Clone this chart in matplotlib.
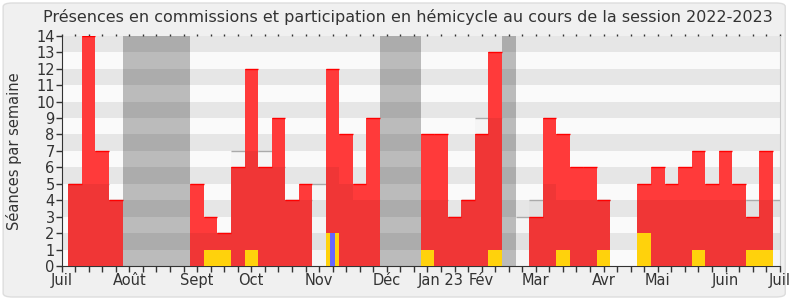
import numpy as np
import matplotlib.pyplot as plt
from matplotlib.patches import FancyBboxPatch

# weekly values, week 0 = first tick (Juil) ... week 53 = last tick (Juil)
weeks = np.arange(54)
presences = [0, 5, 14, 7, 4, 0, 0, 0, 0, 0,
             5, 3, 2, 6, 12, 6, 9, 4, 5, 0,
             12, 8, 5, 9, 0, 0, 0, 8, 8, 3,
             4, 8, 13, 0, 0, 3, 9, 8, 6, 6,
             4, 0, 0, 5, 6, 5, 6, 7, 5, 7,
             5, 3, 7, 0]
interventions = [0, 0, 0, 0, 0, 0, 0, 0, 0, 0,
                 0, 1, 1, 0, 1, 0, 0, 0, 0, 0,
                 2, 0, 0, 0, 0, 0, 0, 1, 0, 0,
                 0, 0, 1, 0, 0, 0, 0, 1, 0, 0,
                 1, 0, 0, 2, 0, 0, 0, 1, 0, 0,
                 0, 1, 1, 0]
questions = [0] * 20 + [2] + [0] * 33
mediane = [0, 5, 5, 5, 4, 0, 0, 0, 0, 0,
           2, 2, 2, 7, 7, 7, 6, 4, 4, 5,
           6, 5, 4, 4, 0, 0, 0, 4, 4, 3,
           4, 9, 9, 0, 3, 4, 5, 4, 4, 4,
           4, 0, 0, 4, 4, 4, 4, 4, 4, 4,
           4, 4, 4, 4]
vacances = [5, 6, 7, 8, 9, 24, 25, 26, 33]
month_pos = [0, 5, 10, 14, 19, 24, 28, 31, 35, 40, 44, 49, 53]
month_lbl = ['Juil', 'Août', 'Sept', 'Oct', 'Nov', 'Déc', 'Jan 23', 'Fév',
             'Mar', 'Avr', 'Mai', 'Juin', 'Juil']

presences = np.array(presences)
mediane = np.array(mediane)

fig = plt.figure(figsize=(7.9, 3.0), dpi=100)
fig.patch.set_facecolor('white')
bg = FancyBboxPatch((0.004, 0.01), 0.99, 0.98, boxstyle='round,pad=0,rounding_size=0.012',
                    transform=fig.transFigure, facecolor='#f0f0f0', edgecolor='#dddddd',
                    lw=1, zorder=-10)
fig.patches.append(bg)
ax = fig.add_axes([0.078, 0.113, 0.909, 0.768])
ax.set_facecolor('#fafafa')

for i in range(1, 14, 2):
    ax.axhspan(i, i + 1, color='#e6e6e6', lw=0, zorder=0)
for w in vacances:
    ax.axvspan(w - 0.5, w + 0.5, color='black', alpha=0.25, lw=0, zorder=1)

# median of all deputies
ax.bar(weeks, mediane, width=1, color='black', alpha=0.02, lw=0, zorder=1.5)
m = mediane > 0
ax.hlines(mediane[m], weeks[m] - 0.5, weeks[m] + 0.5, color='#aaaaaa', lw=1, zorder=2)

ax.bar(weeks, presences, width=1, color='#ff3a3a', lw=0, zorder=3)
ax.bar(weeks, np.minimum(presences, mediane), width=1, color='black', alpha=0.06, lw=0, zorder=3.5)
p = presences > 0
ax.hlines(presences[p], weeks[p] - 0.5, weeks[p] + 0.5, color='#ff0000', lw=1, zorder=3.6)
ax.bar(weeks, interventions, width=1, color='#ffd20c', lw=0, zorder=4)
ax.bar(weeks, questions, width=0.38, color='#6666ff', lw=0, zorder=5)

ax.set_xlim(0, 53)
ax.set_ylim(0, 14)
ax.set_yticks(range(15))
ax.set_xticks(weeks, minor=True)
ax.set_xticks(month_pos)
ax.set_xticklabels(month_lbl)
ax.tick_params(axis='both', which='both', direction='out', length=4, width=1, color='#333333',
               labelcolor='#333333', labelsize=10.5, pad=1)
ax.tick_params(axis='x', which='both', top=True, labeltop=False)
for t in ax.xaxis.get_ticklines(minor=True)[1::2] + ax.xaxis.get_ticklines()[1::2]:
    t.set_markersize(1.5)

for s in ['left', 'bottom']:
    ax.spines[s].set_color('#333333')
ax.spines['top'].set_visible(False)
ax.spines['right'].set_color('#cccccc')

ax.set_ylabel('Séances par semaine', fontsize=10.5, color='#333333', labelpad=10)
fig.text(0.516, 0.943, 'Présences en commissions et participation en hémicycle au cours de la session 2022-2023',
         ha='center', va='center', fontsize=11.5, color='#333333')

fig.savefig('out.png', dpi=100, facecolor=fig.get_facecolor())
